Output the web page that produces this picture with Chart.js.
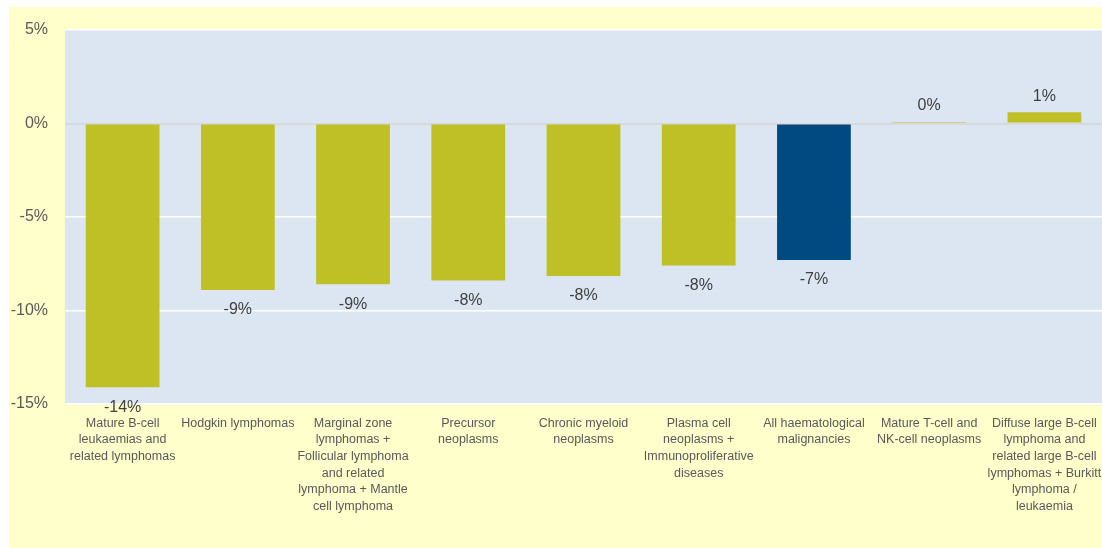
<!DOCTYPE html>
<html>
<head>
<meta charset="utf-8">
<script src="https://cdn.jsdelivr.net/npm/chart.js@4"></script>
<style>
  html, body { margin: 0; padding: 0; background: #fff; }
  #wrap { position: relative; width: 1102px; height: 548px; }
</style>
</head>
<body>
<div id="wrap"><canvas id="changeChart" width="1102" height="548"></canvas></div>
<script>
// Kategori keganasan hematologi
const categories = [
    ['Mature B-cell', 'leukaemias and', 'related lymphomas'],
    ['Hodgkin lymphomas'],
    ['Marginal zone', 'lymphomas +', 'Follicular lymphoma', 'and related', 'lymphoma + Mantle', 'cell lymphoma'],
    ['Precursor', 'neoplasms'],
    ['Chronic myeloid', 'neoplasms'],
    ['Plasma cell', 'neoplasms +', 'Immunoproliferative', 'diseases'],
    ['All haematological', 'malignancies'],
    ['Mature T-cell and', 'NK-cell neoplasms'],
    ['Diffuse large B-cell', 'lymphoma and', 'related large B-cell', 'lymphomas + Burkitt', 'lymphoma /', 'leukaemia']
];
// Perubahan (%)
const changeValues = [-14.1, -8.9, -8.6, -8.4, -8.15, -7.6, -7.3, 0.08, 0.6];
// Batang "All haematological malignancies" diberi warna berbeda
const highlightIndex = 6;
const yTicks = [5, 0, -5, -10, -15];

const OLIVE = '#BFBF26';
const NAVY = '#004A82';

function pctLabel(v) {
    const r = Math.round(v);
    return (r === 0 ? 0 : r) + '%';
}

// Latar kuning di luar, biru muda di area plot
const backgroundPlugin = {
    id: 'backgrounds',
    beforeDraw(chart) {
        const ctx = chart.ctx;
        const a = chart.chartArea;
        ctx.save();
        ctx.fillStyle = '#FFFFCC';
        ctx.fillRect(9, 7, chart.width - 9, chart.height - 7);
        ctx.fillStyle = '#DCE6F2';
        ctx.fillRect(a.left, a.top, a.right - a.left, a.bottom - a.top);
        ctx.restore();
    }
};

// Label nilai di ujung setiap batang
const valueLabelPlugin = {
    id: 'valueLabels',
    afterDatasetsDraw(chart) {
        const ctx = chart.ctx;
        const meta = chart.getDatasetMeta(0);
        ctx.save();
        ctx.font = '16px "Liberation Sans", Arial, sans-serif';
        ctx.fillStyle = '#404040';
        ctx.textAlign = 'center';
        ctx.textBaseline = 'middle';
        meta.data.forEach(function (bar, i) {
            const v = changeValues[i];
            const y = v < 0 ? bar.y + 20 : bar.y - 16;
            ctx.fillText(pctLabel(v), bar.x, y);
        });
        ctx.restore();
    }
};

const ctx = document.getElementById('changeChart').getContext('2d');
new Chart(ctx, {
    type: 'bar',
    data: {
        labels: categories,
        datasets: [{
            data: changeValues,
            backgroundColor: changeValues.map((_, i) => i === highlightIndex ? NAVY : OLIVE),
            barPercentage: 0.64,
            categoryPercentage: 1.0
        }]
    },
    options: {
        responsive: false,
        animation: false,
        layout: { padding: { top: 30, left: 0, right: 0, bottom: 0 } },
        plugins: {
            legend: { display: false },
            tooltip: { enabled: false }
        },
        scales: {
            x: {
                grid: { display: false },
                border: { display: false },
                ticks: {
                    autoSkip: false,
                    maxRotation: 0,
                    minRotation: 0,
                    padding: 3,
                    color: '#595959',
                    font: { family: '"Liberation Sans", Arial, sans-serif', size: 12.5, lineHeight: 1.33 }
                },
                afterFit(scale) {
                    scale.height = 144;
                    // label terakhir boleh melewati tepi kanan
                    scale.paddingLeft = 0;
                    scale.paddingRight = 0;
                }
            },
            y: {
                min: -15,
                max: 5,
                afterBuildTicks(scale) { scale.ticks = yTicks.map(v => ({ value: v })); },
                grid: {
                    drawTicks: false,
                    color: ctx => ctx.tick && ctx.tick.value === 0 ? '#D9D9D9' : '#FFFFFF',
                    lineWidth: ctx => ctx.tick && ctx.tick.value === 0 ? 2 : 1.5
                },
                border: { display: false },
                ticks: {
                    padding: 17,
                    color: '#595959',
                    font: { family: '"Liberation Sans", Arial, sans-serif', size: 16 },
                    callback: v => v + '%'
                },
                afterFit(scale) { scale.width = 65; }
            }
        }
    },
    plugins: [backgroundPlugin, valueLabelPlugin]
});
</script>
</body>
</html>
